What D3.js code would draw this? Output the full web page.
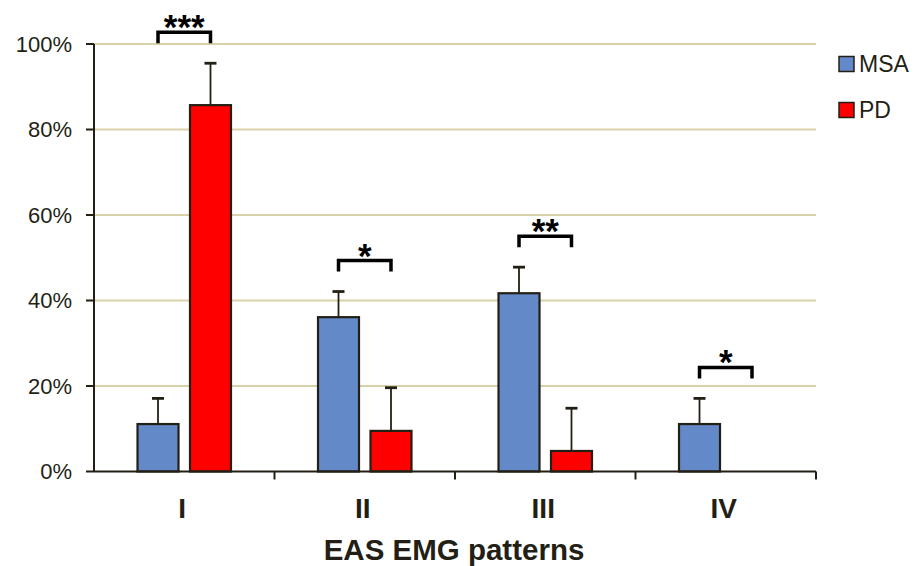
<!DOCTYPE html>
<meta charset="utf-8">
<style>
body { margin: 0; background: #fff; }
text { font-family: "Liberation Sans", Arial, sans-serif; fill: #231f14; }
.tick-label { font-size: 22px; text-anchor: end; }
.cat-label { font-size: 28px; font-weight: bold; text-anchor: middle; }
.axis-title { font-size: 29.5px; font-weight: bold; text-anchor: middle; }
.legend text { font-size: 23px; }
.stars { font-size: 35px; font-weight: bold; text-anchor: middle; fill: #000; }
</style>
<svg width="920" height="566" id="chart"></svg>
<script src="https://cdnjs.cloudflare.com/ajax/libs/d3/7.8.5/d3.min.js"></script>
<script>

// data
var categories = ["I", "II", "III", "IV"];
var series = ["MSA", "PD"];
var msaValues = [11.1, 36.1, 41.7, 11.1];
var msaErrors = [6.0, 6.0, 6.1, 6.0];
var pdValues = [85.7, 9.5, 4.8, 0];
var pdErrors = [9.8, 10.1, 10.0, 0];
var significance = ["***", "*", "**", "*"];
var yTicks = [0, 20, 40, 60, 80, 100];

var colors = { MSA: "#6389c9", PD: "#ff0000" };
var dark = "#231f14";

var svg = d3.select("#chart");

var x0 = d3.scaleBand()
    .domain(categories)
    .range([94, 816]);

var x1 = d3.scaleBand()
    .domain(series)
    .range([0, x0.bandwidth()])
    .paddingInner(0.219)
    .paddingOuter(0.829);

var y = d3.scaleLinear()
    .domain([0, 100])
    .range([471.5, 44]);

// rows: one per category
var rows = categories.map(function(c, i) {
  return {
    cat: c,
    bars: [
      { key: "MSA", value: msaValues[i], err: msaErrors[i] },
      { key: "PD", value: pdValues[i], err: pdErrors[i] }
    ],
    sig: significance[i]
  };
});

// gridlines
svg.append("g").selectAll("line")
  .data(yTicks.filter(function(d) { return d > 0; }))
  .enter().append("line")
    .attr("x1", x0.range()[0])
    .attr("x2", x0.range()[1])
    .attr("y1", function(d) { return y(d); })
    .attr("y2", function(d) { return y(d); })
    .attr("stroke", "#d9d1aa")
    .attr("stroke-width", 2);

// y axis
var yAxis = svg.append("g");
yAxis.append("line")
    .attr("x1", 94).attr("x2", 94)
    .attr("y1", y(100)).attr("y2", y(0))
    .attr("stroke", dark).attr("stroke-width", 2);
var yt = yAxis.selectAll(".yt").data(yTicks).enter().append("g").attr("class", "yt");
yt.append("line")
    .attr("x1", 86).attr("x2", 94)
    .attr("y1", function(d) { return y(d); })
    .attr("y2", function(d) { return y(d); })
    .attr("stroke", dark).attr("stroke-width", 2);
yt.append("text")
    .attr("class", "tick-label")
    .attr("x", 72)
    .attr("y", function(d) { return y(d); })
    .attr("dy", "0.36em")
    .text(function(d) { return d + "%"; });

// bars
var groups = svg.append("g").selectAll(".grp")
  .data(rows)
  .enter().append("g")
    .attr("class", "grp")
    .attr("transform", function(d) { return "translate(" + x0(d.cat) + ",0)"; });

groups.selectAll("rect")
  .data(function(d) { return d.bars.filter(function(b) { return b.value > 0; }); })
  .enter().append("rect")
    .attr("x", function(b) { return x1(b.key); })
    .attr("width", x1.bandwidth())
    .attr("y", function(b) { return y(b.value); })
    .attr("height", function(b) { return y(0) - y(b.value); })
    .attr("fill", function(b) { return colors[b.key]; })
    .attr("stroke", dark)
    .attr("stroke-width", 2.2);

// error bars (upper only)
var eb = groups.selectAll(".err")
  .data(function(d) { return d.bars.filter(function(b) { return b.err > 0; }); })
  .enter().append("g").attr("class", "err");
eb.append("line")
    .attr("x1", function(b) { return x1(b.key) + x1.bandwidth() / 2; })
    .attr("x2", function(b) { return x1(b.key) + x1.bandwidth() / 2; })
    .attr("y1", function(b) { return y(b.value); })
    .attr("y2", function(b) { return y(b.value + b.err); })
    .attr("stroke", dark).attr("stroke-width", 1.8);
eb.append("line")
    .attr("x1", function(b) { return x1(b.key) + x1.bandwidth() / 2 - 6; })
    .attr("x2", function(b) { return x1(b.key) + x1.bandwidth() / 2 + 6; })
    .attr("y1", function(b) { return y(b.value + b.err); })
    .attr("y2", function(b) { return y(b.value + b.err); })
    .attr("stroke", dark).attr("stroke-width", 2.8);

// x axis
var xAxis = svg.append("g");
xAxis.append("line")
    .attr("x1", 94).attr("x2", 816)
    .attr("y1", y(0)).attr("y2", y(0))
    .attr("stroke", dark).attr("stroke-width", 2);
xAxis.selectAll(".xt")
  .data(categories)
  .enter().append("line")
    .attr("x1", function(c) { return x0(c) + x0.bandwidth(); })
    .attr("x2", function(c) { return x0(c) + x0.bandwidth(); })
    .attr("y1", y(0)).attr("y2", y(0) + 8)
    .attr("stroke", dark).attr("stroke-width", 2);
xAxis.selectAll(".cat-label")
  .data(categories)
  .enter().append("text")
    .attr("class", "cat-label")
    .attr("x", function(c) { return x0(c) + x0.bandwidth() / 2 - 2; })
    .attr("y", 518)
    .text(function(c) { return c; });

svg.append("text")
    .attr("class", "axis-title")
    .attr("x", 454)
    .attr("y", 560)
    .text("EAS EMG patterns");

// significance brackets, placed above the taller error bar
var sig = groups.append("g");
sig.each(function(d) {
  var g = d3.select(this);
  var top = d3.max(d.bars, function(b) { return b.value + b.err; });
  var yb = y(top) - 31;
  var xa = x1("MSA") + x1.bandwidth() / 2;
  var xb = x1("PD") + x1.bandwidth() / 2;
  g.append("path")
    .attr("d", "M" + xa + "," + (yb + 11) + "V" + yb + "H" + xb + "V" + (yb + 11))
    .attr("fill", "none")
    .attr("stroke", "#000")
    .attr("stroke-width", 3.5);
  g.append("text")
    .attr("class", "stars")
    .attr("x", (xa + xb) / 2)
    .attr("y", yb + 7)
    .text(d.sig);
});

// legend
var legend = svg.append("g").attr("class", "legend");
var li = legend.selectAll("g")
  .data(series)
  .enter().append("g")
    .attr("transform", function(d, i) { return "translate(839," + (64 + i * 46) + ")"; });
li.append("rect")
    .attr("x", 0).attr("y", -7.5)
    .attr("width", 15).attr("height", 15)
    .attr("fill", function(d) { return colors[d]; })
    .attr("stroke", dark).attr("stroke-width", 1.5);
li.append("text")
    .attr("x", 20)
    .attr("dy", "0.36em")
    .text(function(d) { return d; });

</script>
